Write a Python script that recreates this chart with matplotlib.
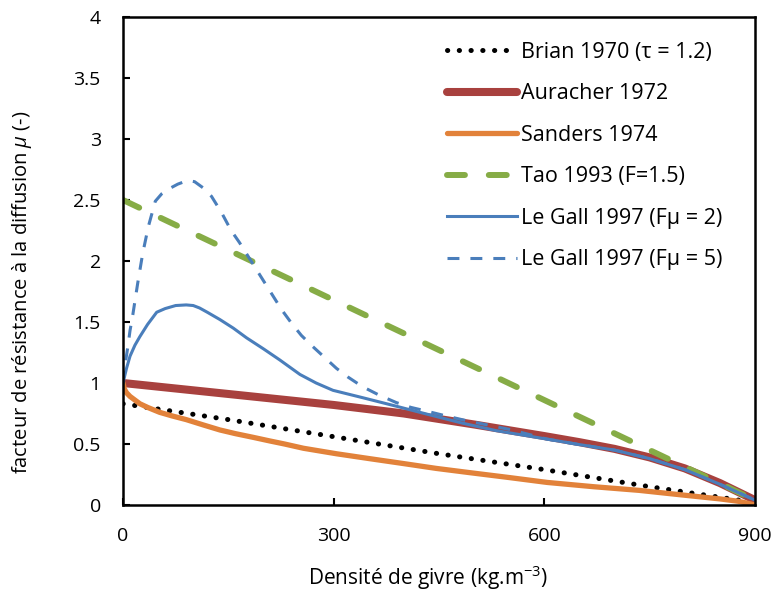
import numpy as np
import matplotlib
matplotlib.use("Agg")
import matplotlib.pyplot as plt

plt.rcParams['font.family'] = ['Open Sans', 'DejaVu Sans']
plt.rcParams['mathtext.fontset'] = 'custom'
plt.rcParams['mathtext.rm'] = 'Open Sans'
plt.rcParams['mathtext.it'] = 'Open Sans:italic'

# values (density in kg/m3, mu dimensionless)
rho_brian = [0, 150, 300, 450, 600, 750, 900]
mu_brian = [0.83, 0.70, 0.56, 0.42, 0.29, 0.15, 0.02]

rho_aur = [0, 100, 200, 300, 400, 500, 600, 650, 700, 750, 800, 850, 900]
mu_aur = [1.0, 0.94, 0.88, 0.82, 0.75, 0.66, 0.565, 0.515, 0.46, 0.39, 0.30, 0.18, 0.04]

rho_sand = [0, 2, 5, 10, 17, 24, 35, 52, 70, 90, 115, 138, 160, 185, 209, 230, 257, 304,
            351, 399, 446, 494, 550, 604, 670, 735, 800, 850, 877, 900]
mu_sand = [1.0, 0.95, 0.92, 0.89, 0.86, 0.83, 0.80, 0.76, 0.73, 0.70, 0.655, 0.615, 0.585,
           0.555, 0.525, 0.50, 0.465, 0.42, 0.38, 0.34, 0.30, 0.265, 0.225, 0.185, 0.15,
           0.12, 0.08, 0.05, 0.03, 0.0]

rho_tao = [0, 150, 300, 450, 600, 750, 900]
mu_tao = [2.5, 2.09, 1.68, 1.27, 0.86, 0.45, 0.04]

rho_lg2 = [0, 5, 10, 17, 24, 35, 48, 60, 75, 90, 100, 109, 120, 138, 157, 176, 200, 223,
           252, 275, 299, 341, 389, 436, 484, 531, 604, 650, 700, 750, 800, 850, 900]
mu_lg2 = [1.0, 1.12, 1.22, 1.31, 1.38, 1.48, 1.58, 1.61, 1.635, 1.64, 1.635, 1.615, 1.58,
          1.52, 1.45, 1.37, 1.28, 1.19, 1.07, 1.0, 0.94, 0.88, 0.81, 0.74, 0.67, 0.61,
          0.54, 0.495, 0.45, 0.38, 0.29, 0.17, 0.04]

rho_lg5 = [0, 4, 7, 10, 14, 21, 28, 36, 46, 55, 65, 78, 92, 102, 114, 126, 140, 154, 166,
           178, 190, 202, 214, 226, 240, 254, 270, 287, 304, 320, 341, 365, 389, 410, 432,
           460, 490, 550, 604, 650, 700, 750, 800, 850, 900]
mu_lg5 = [1.0, 1.19, 1.30, 1.43, 1.56, 1.82, 2.06, 2.28, 2.49, 2.55, 2.59, 2.63, 2.66, 2.65,
          2.60, 2.53, 2.40, 2.25, 2.15, 2.04, 1.93, 1.82, 1.71, 1.60, 1.49, 1.39, 1.30, 1.21,
          1.12, 1.05, 0.97, 0.90, 0.84, 0.80, 0.77, 0.73, 0.69, 0.62, 0.54, 0.495, 0.45,
          0.38, 0.29, 0.17, 0.04]

red = '#A8413E'
orange = '#E2823A'
green = '#86AC46'
blue = '#4A7EBB'

fig = plt.figure(figsize=(7.75, 5.94), dpi=100)
ax = fig.add_axes([123 / 775, 1 - 505 / 594, (755 - 123) / 775, (505 - 17) / 594])

ax.plot(rho_brian, mu_brian, color='black', lw=3.6, ls=(0, (0.05, 2.3)),
        dash_capstyle='round', label='Brian 1970 (τ = 1.2)')
ax.plot(rho_aur, mu_aur, color=red, lw=5.8, solid_capstyle='round',
        solid_joinstyle='round', label='Auracher 1972')
ax.plot(rho_sand, mu_sand, color=orange, lw=3.8, solid_capstyle='round',
        solid_joinstyle='round', label='Sanders 1974')
ax.plot(rho_tao, mu_tao, color=green, lw=4.3, ls=(0, (3.0, 4.0)),
        dash_capstyle='round', label='Tao 1993 (F=1.5)')
ax.plot(rho_lg2, mu_lg2, color=blue, lw=2.2, solid_joinstyle='round',
        label='Le Gall 1997 (Fμ = 2)')
ax.plot(rho_lg5, mu_lg5, color=blue, lw=2.2, ls=(0, (3.9, 3.6)),
        label='Le Gall 1997 (Fμ = 5)')

ax.set_xlim(0, 900)
ax.set_ylim(0, 4)
ax.set_xticks([0, 300, 600, 900])
ax.set_yticks(np.arange(0, 4.01, 0.5))
ax.set_yticklabels(['%g' % v for v in np.arange(0, 4.01, 0.5)])
ax.tick_params(direction='in', length=5, width=1.5, labelsize=14, pad=16)
for s in ax.spines.values():
    s.set_linewidth(1.8)

ax.set_xlabel('Densité de givre (kg.m$^{-3}$)', fontsize=15, va='center')
ax.xaxis.set_label_coords(0.483, (505 - 578) / 488)
ax.set_ylabel('facteur de résistance à la diffusion $\\mu$ (-)', fontsize=14.5, va='center')
ax.yaxis.set_label_coords((22 - 123) / 632, (505 - 292) / 488)

ax.legend(loc='upper left', bbox_to_anchor=(447 / 775, 1 - 42 / 594),
          bbox_transform=fig.transFigure, frameon=False, fontsize=15.5,
          handlelength=3.25, handletextpad=0.2, labelspacing=0.95, borderpad=0,
          borderaxespad=0)

fig.savefig('out.png', dpi=100)
